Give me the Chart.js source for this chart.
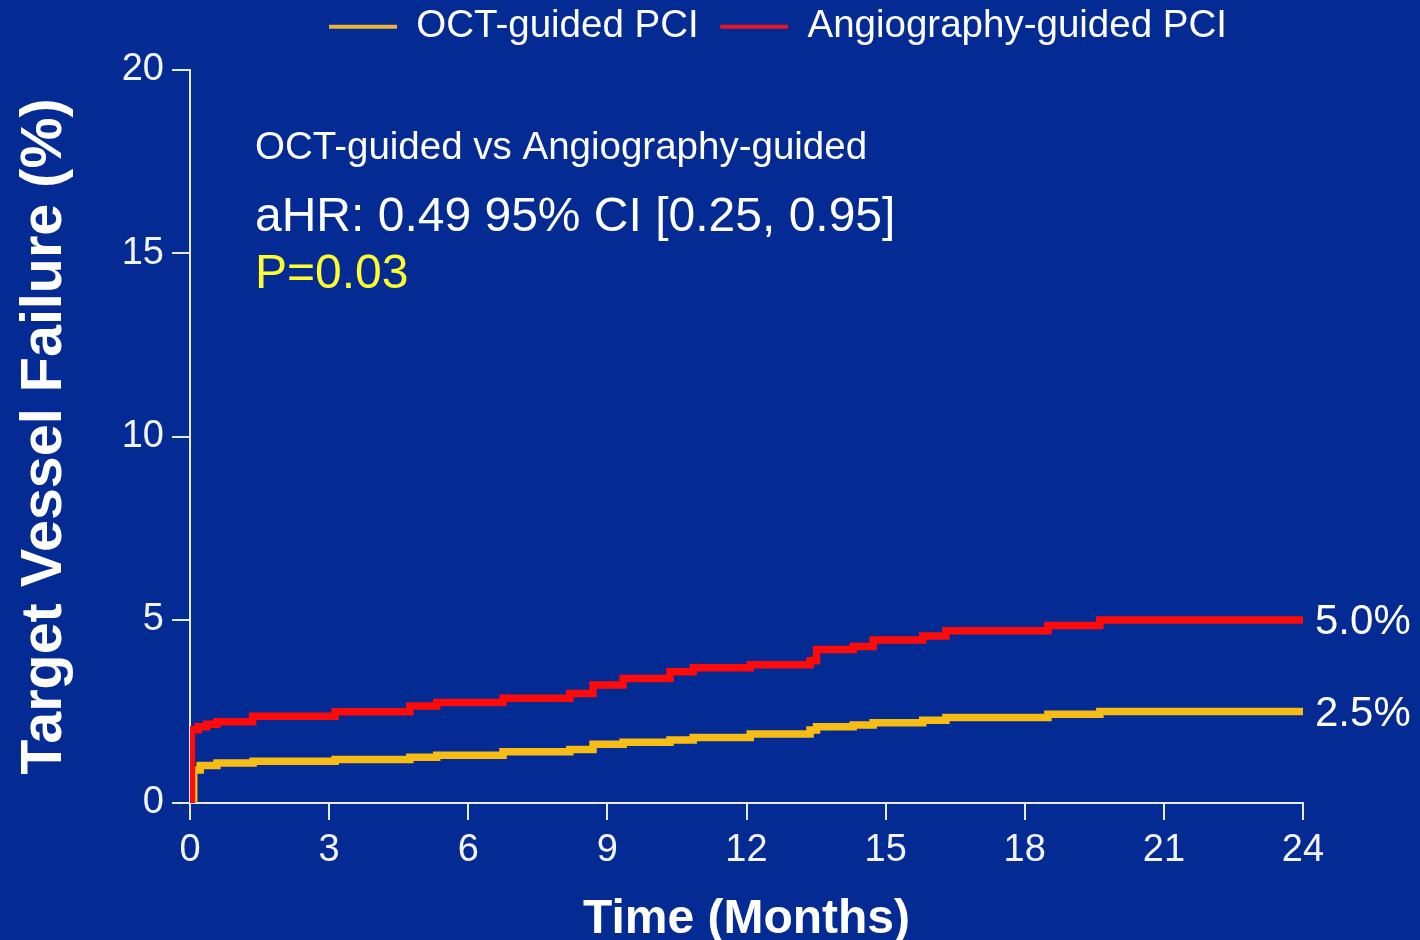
<!DOCTYPE html>
<html>
<head>
<meta charset="utf-8">
<title>Target Vessel Failure</title>
<script src="https://cdn.jsdelivr.net/npm/chart.js@4.4.1/dist/chart.umd.min.js"></script>
<style>
  html, body { margin: 0; padding: 0; background: #042a94; }
  #wrap { width: 1420px; height: 940px; }
</style>
</head>
<body>
<div id="wrap"><canvas id="kmChart" width="1420" height="940"></canvas></div>
<script>
// Dữ liệu (tháng, % TVF)
const octTimes = [0, 0.08, 0.22, 0.58, 1.36, 3.13, 4.74, 5.32, 6.75, 8.19, 8.69, 9.34, 10.35, 10.85, 12.08, 13.37, 13.51, 14.3, 14.73, 15.8, 16.3, 18.5, 19.62, 24];
const octValues = [0, 0.90, 1.02, 1.09, 1.14, 1.19, 1.25, 1.30, 1.40, 1.46, 1.60, 1.66, 1.72, 1.79, 1.88, 1.99, 2.08, 2.13, 2.19, 2.26, 2.33, 2.42, 2.50, 2.50];

const angioTimes = [0, 0.03, 0.18, 0.36, 0.58, 1.35, 3.13, 4.74, 5.32, 6.75, 8.19, 8.69, 9.34, 10.35, 10.85, 12.08, 13.37, 13.51, 14.3, 14.73, 15.8, 16.3, 18.5, 19.62, 24];
const angioValues = [0, 2.00, 2.08, 2.15, 2.22, 2.37, 2.49, 2.65, 2.74, 2.86, 2.99, 3.22, 3.40, 3.58, 3.69, 3.77, 3.88, 4.19, 4.27, 4.45, 4.56, 4.70, 4.84, 4.99, 5.00];

const seriesNames = ['OCT-guided PCI', 'Angiography-guided PCI'];
const endLabels = ['2.5%', '5.0%'];
const xTicks = [0, 3, 6, 9, 12, 15, 18, 21, 24];
const yTicks = [0, 5, 10, 15, 20];

const BG = '#042a94';
const FONT = "'Liberation Sans', Arial, sans-serif";
const AXIS = '#e6ecf7';

function toPoints(times, values) {
    return times.map((t, i) => ({ x: t, y: values[i] }));
}

// Nền xanh
const bgPlugin = {
    id: 'bg',
    beforeDraw(chart) {
        const ctx = chart.ctx;
        ctx.save();
        ctx.fillStyle = BG;
        ctx.fillRect(0, 0, chart.width, chart.height);
        ctx.restore();
    },
    afterLayout(chart) {
        // dịch chú giải cho giống bản gốc
        const lg = chart.legend;
        if (lg) {
            lg.left = 778 - 700;
            lg.right = 778 + 700;
            lg.top = -14;
        }
    }
};

// Chữ chú thích + nhãn cuối đường
const textPlugin = {
    id: 'texts',
    afterDatasetsDraw(chart) {
        const ctx = chart.ctx;
        const area = chart.chartArea;
        ctx.save();
        ctx.textBaseline = 'middle';
        ctx.textAlign = 'left';
        ctx.fillStyle = '#ffffff';
        ctx.font = '38.5px ' + FONT;
        ctx.fillText('OCT-guided vs Angiography-guided', area.left + 65, 148);
        ctx.font = '48px ' + FONT;
        ctx.fillText('aHR: 0.49 95% CI [0.25, 0.95]', area.left + 65, 218);
        ctx.fillStyle = '#ffff2e';
        ctx.fillText('P=0.03', area.left + 65, 275);

        ctx.fillStyle = '#ffffff';
        ctx.font = '42px ' + FONT;
        chart.data.datasets.forEach((ds, i) => {
            const meta = chart.getDatasetMeta(i);
            const last = meta.data[meta.data.length - 1];
            ctx.fillText(endLabels[i], last.x + 12, last.y + 3);
        });
        ctx.restore();
    }
};

const ctx = document.getElementById('kmChart').getContext('2d');

new Chart(ctx, {
    type: 'line',
    data: {
        datasets: [{
            label: seriesNames[0],
            data: toPoints(octTimes, octValues),
            borderColor: '#f7bd14',
            backgroundColor: '#e8b53a',
            borderWidth: 7.5,
            stepped: 'before',
            pointRadius: 0,
            order: 1
        }, {
            label: seriesNames[1],
            data: toPoints(angioTimes, angioValues),
            borderColor: '#ff0a0a',
            backgroundColor: '#e8141e',
            borderWidth: 7.5,
            stepped: 'before',
            pointRadius: 0,
            order: 0
        }]
    },
    options: {
        responsive: false,
        animation: false,
        layout: { padding: { left: 0, right: 117, top: 0, bottom: 0 } },
        plugins: {
            tooltip: { enabled: false },
            legend: {
                position: 'top',
                labels: {
                    color: '#ffffff',
                    font: { family: FONT, size: 38.5 },
                    boxWidth: 68,
                    boxHeight: 4,
                    padding: 21.5,
                    generateLabels(chart) {
                        const items = Chart.defaults.plugins.legend.labels.generateLabels(chart);
                        items.sort((a, b) => a.datasetIndex - b.datasetIndex);
                        return items.map(it => Object.assign(it, {
                            fillStyle: chart.data.datasets[it.datasetIndex].backgroundColor,
                            lineWidth: 0
                        }));
                    }
                }
            }
        },
        scales: {
            x: {
                type: 'linear',
                min: 0,
                max: 24,
                afterFit(scale) { scale.height = 137; },
                afterBuildTicks(scale) { scale.ticks = xTicks.map(v => ({ value: v })); },
                grid: { drawOnChartArea: false, drawTicks: true, tickLength: 17, color: AXIS, lineWidth: 2 },
                border: { display: true, color: AXIS, width: 2 },
                ticks: {
                    color: '#f2f4fa',
                    font: { family: FONT, size: 38 },
                    padding: 8,
                    maxRotation: 0
                },
                title: {
                    display: true,
                    text: 'Time (Months)',
                    color: '#ffffff',
                    font: { family: FONT, size: 48, weight: 'bold', lineHeight: 1 },
                    padding: { top: 0, bottom: -4 }
                }
            },
            y: {
                min: 0,
                max: 20,
                afterFit(scale) { scale.width = 190; },
                afterBuildTicks(scale) { scale.ticks = yTicks.map(v => ({ value: v })); },
                grid: { drawOnChartArea: false, drawTicks: true, tickLength: 18, color: AXIS, lineWidth: 2 },
                border: { display: true, color: AXIS, width: 2 },
                ticks: {
                    color: '#f2f4fa',
                    font: { family: FONT, size: 38 },
                    padding: 8
                },
                title: {
                    display: true,
                    text: 'Target Vessel Failure (%)',
                    color: '#ffffff',
                    font: { family: FONT, size: 57.5, weight: 'bold', lineHeight: 1 },
                    padding: { top: 16, bottom: 0 }
                }
            }
        }
    },
    plugins: [bgPlugin, textPlugin]
});
</script>
</body>
</html>
